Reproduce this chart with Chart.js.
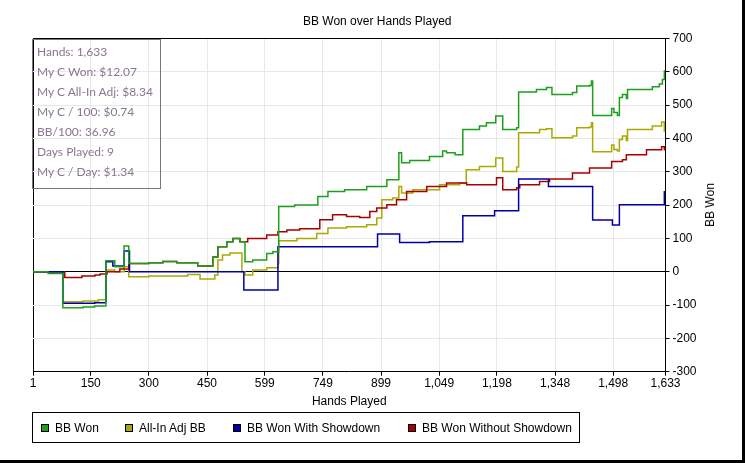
<!DOCTYPE html>
<html>
<head>
<meta charset="utf-8">
<script src="https://cdn.jsdelivr.net/npm/chart.js@4"></script>
<style>
  html, body { margin: 0; padding: 0; background: #fff; }
  #frame {
    position: relative; width: 745px; height: 463px; box-sizing: border-box;
    border-right: 3px solid #000; border-bottom: 3px solid #000; overflow: hidden;
  }
  #chart { position: absolute; left: 0; top: 0; }
  #stats {
    position: absolute; left: 32px; top: 39px; width: 129px; height: 150px; box-sizing: border-box;
    border: 1px solid #777; padding: 2px 0 0 4px;
    font: 12px Lato, "Open Sans", sans-serif; line-height: 20px; color: #8b7590;
  }
  #ytitle {
    position: absolute; left: 710px; top: 205px; transform: translate(-50%, -50%) rotate(-90deg);
    font: 12px "Liberation Sans", Arial, sans-serif; color: #000; white-space: nowrap;
  }
  #legend {
    position: absolute; left: 32px; top: 412px; width: 548px; height: 31px; box-sizing: border-box;
    border: 1px solid #000; font: 12px "Liberation Sans", Arial, sans-serif; color: #000;
  }
  .item { position: absolute; top: 8px; display: flex; align-items: center; white-space: nowrap; }
  .sw { width: 8px; height: 8px; box-sizing: border-box; border: 1px solid #000; margin-right: 6px; }
</style>
</head>
<body>
<div id="frame">
  <canvas id="chart" width="742" height="460"></canvas>
  <div id="stats"></div>
  <div id="ytitle">BB Won</div>
  <div id="legend"></div>
</div>
<script>
// hands at which each running total changes, and the total from that hand on
const bbWonHands = [1, 40, 78, 130, 160, 189, 212, 236, 248, 300, 336, 372, 426, 465, 478, 501, 517, 535, 548, 568, 604, 620, 635, 676, 736, 762, 805, 862, 914, 945, 952, 973, 1024, 1058, 1068, 1090, 1110, 1153, 1171, 1195, 1213, 1249, 1254, 1300, 1326, 1340, 1393, 1404, 1437, 1442, 1445, 1494, 1500, 1509, 1514, 1522, 1532, 1535, 1599, 1617, 1625, 1630, 1633];
const bbWonValues = [0, -5, -108, -106, -103, 33, 15, 77, 25, 27, 31, 27, 17, 44, 75, 90, 100, 90, 30, 35, 55, 60, 196, 200, 226, 241, 246, 256, 276, 357, 327, 334, 346, 362, 357, 351, 427, 437, 447, 467, 427, 432, 539, 547, 553, 532, 538, 557, 559, 572, 469, 490, 478, 469, 523, 532, 520, 547, 555, 563, 577, 602, 602];

const allInHands = [1, 78, 130, 170, 189, 212, 236, 248, 300, 400, 432, 470, 478, 490, 509, 540, 548, 568, 604, 633, 635, 682, 733, 762, 810, 862, 888, 901, 929, 945, 952, 981, 1050, 1102, 1119, 1153, 1195, 1213, 1249, 1254, 1308, 1326, 1340, 1393, 1404, 1437, 1442, 1445, 1494, 1500, 1509, 1514, 1522, 1532, 1535, 1599, 1623, 1630, 1633];
const allInValues = [0, -90, -88, -84, 5, 0, 15, -15, -13, -8, -22, -10, 35, 50, 56, 0, -10, 5, 12, 25, 93, 100, 115, 131, 135, 141, 161, 216, 221, 256, 236, 246, 261, 266, 306, 316, 341, 301, 314, 417, 427, 429, 402, 407, 432, 434, 447, 360, 380, 367, 362, 397, 407, 394, 427, 437, 449, 422, 422];

const showdownHands = [1, 78, 160, 189, 207, 236, 250, 545, 633, 890, 947, 1024, 1110, 1192, 1254, 1331, 1445, 1496, 1514, 1630, 1633];
const showdownValues = [0, -95, -93, 30, 17, 62, 0, -55, 75, 113, 88, 90, 168, 183, 278, 256, 155, 140, 201, 240, 240];

const noShowdownHands = [1, 83, 127, 161, 174, 192, 225, 248, 300, 336, 372, 426, 465, 478, 501, 517, 535, 555, 604, 633, 656, 689, 741, 774, 810, 844, 870, 888, 914, 939, 965, 1017, 1068, 1120, 1197, 1213, 1249, 1257, 1308, 1334, 1393, 1437, 1494, 1522, 1532, 1584, 1623, 1630, 1633];
const noShowdownValues = [0, -17, -13, -10, -7, 0, 8, 25, 27, 31, 27, 17, 44, 75, 90, 100, 90, 100, 110, 120, 125, 129, 156, 171, 166, 163, 181, 191, 201, 216, 241, 256, 266, 261, 282, 246, 252, 261, 271, 278, 296, 311, 331, 336, 351, 366, 375, 366, 366];

const xTickValues = [1, 150, 300, 450, 599, 749, 899, 1049, 1198, 1348, 1498, 1633];

const seriesNames = ["BB Won", "All-In Adj BB", "BB Won With Showdown", "BB Won Without Showdown"];
const seriesColors = ["#1ca01c", "#a9a900", "#0000a8", "#a80000"];

const statLines = [
  "Hands: 1,633",
  "My C Won: $12.07",
  "My C All-In Adj: $8.34",
  "My C / 100: $0.74",
  "BB/100: 36.96",
  "Days Played: 9",
  "My C / Day: $1.34",
];

function toPoints(hands, values) {
  return hands.map((h, i) => ({ x: h, y: values[i] }));
}

document.getElementById("stats").innerHTML = statLines.map((s) => `<div>${s}</div>`).join("");

const legendLefts = [8, 92, 200, 375];
document.getElementById("legend").innerHTML = seriesNames
  .map(
    (name, i) =>
      `<div class="item" style="left:${legendLefts[i]}px"><div class="sw" style="background:${seriesColors[i]}"></div>${name}</div>`
  )
  .join("");

const FONT = "'Liberation Sans', Arial, sans-serif";
const GRID = "#e8e8e8";

const lineSet = (i, data, order) => ({
  label: seriesNames[i],
  data: data,
  borderColor: seriesColors[i],
  backgroundColor: seriesColors[i],
  borderWidth: 1.5,
  pointRadius: 0,
  stepped: true,
  fill: false,
  order: order,
});

new Chart(document.getElementById("chart"), {
  type: "line",
  data: {
    datasets: [
      lineSet(0, toPoints(bbWonHands, bbWonValues), 0),
      lineSet(1, toPoints(allInHands, allInValues), 3),
      lineSet(2, toPoints(showdownHands, showdownValues), 1),
      lineSet(3, toPoints(noShowdownHands, noShowdownValues), 2),
    ],
  },
  options: {
    responsive: false,
    animation: false,
    layout: { padding: { left: 33, right: 20.5, top: 0, bottom: 48.3 } },
    plugins: {
      legend: { display: false },
      tooltip: { enabled: false },
      title: {
        display: true,
        text: "BB Won over Hands Played",
        color: "#000",
        font: { family: FONT, size: 12, weight: "normal" },
        padding: { top: 14, bottom: 10 },
      },
    },
    scales: {
      x: {
        type: "linear",
        min: 1,
        max: 1633,
        afterBuildTicks: (axis) => {
          axis.ticks = xTickValues.map((v) => ({ value: v }));
        },
        afterFit: (scale) => {
          scale.height = 40;
        },
        ticks: {
          autoSkip: false,
          maxRotation: 0,
          padding: 1,
          color: "#000",
          font: { family: FONT, size: 12 },
          callback: (v) => Number(v).toLocaleString("en-US"),
        },
        grid: {
          color: (ctx) => (ctx.tick && ctx.tick.value === 1 ? "#000" : GRID),
          tickColor: "#000",
          tickLength: 4,
        },
        border: { color: "#000", width: 1 },
        title: {
          display: true,
          text: "Hands Played",
          color: "#000",
          font: { family: FONT, size: 12 },
          padding: { top: 0, bottom: 3 },
        },
      },
      y: {
        position: "right",
        min: -300,
        max: 700,
        afterFit: (scale) => {
          scale.width = 56;
        },
        ticks: {
          stepSize: 100,
          padding: 3,
          color: "#000",
          font: { family: FONT, size: 12 },
        },
        grid: {
          color: (ctx) =>
            ctx.tick && (ctx.tick.value === 0 || ctx.tick.value === 700) ? "#000" : GRID,
          tickColor: "#000",
          tickLength: 4,
        },
        border: { color: "#000", width: 1 },
      },
    },
  },
});
</script>
</body>
</html>
